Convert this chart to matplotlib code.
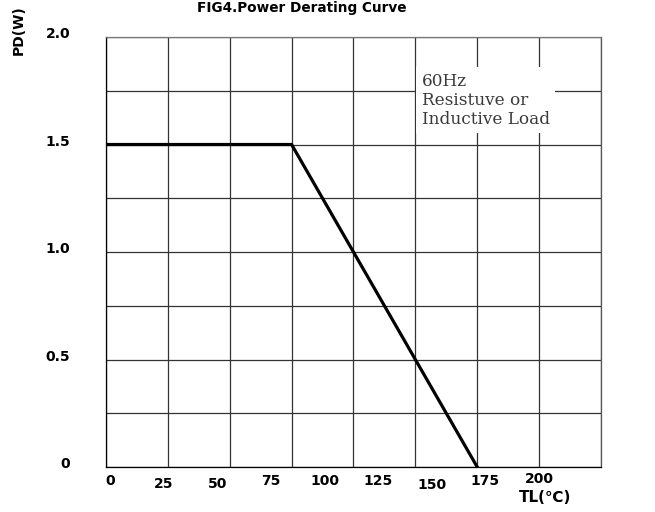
import matplotlib.pyplot as plt

plt.rcParams['font.family'] = ['DejaVu Sans']

# 降额曲线数据
temp = [0, 75, 150]
power = [1.5, 1.5, 0]

x_ticks = [0, 25, 50, 75, 100, 125, 150, 175, 200]
y_ticks = [0, 0.5, 1.0, 1.5, 2.0]
y_labels = ['0', '0.5', '1.0', '1.5', '2.0']

fig = plt.figure(figsize=(6.55, 5.12), dpi=100)
ax = fig.add_axes([0.1618, 0.0879, 0.7557, 0.8398])

ax.plot(temp, power, color='black', lw=2.3, solid_joinstyle='miter', zorder=3)

ax.set_xlim(0, 200)
ax.set_ylim(0, 2.0)
ax.set_xticks(range(0, 201, 25))
ax.set_yticks([i * 0.25 for i in range(9)])
ax.grid(True, color='#333333', lw=0.9)
ax.tick_params(length=0, labelbottom=False, labelleft=False)
for s in ax.spines.values():
    s.set_linewidth(0.9)
ax.spines['top'].set_color('#777777')
ax.spines['right'].set_color('#555555')

# 刻度标签（原图位置错开）
for i, v in enumerate(x_ticks):
    dy = [-0.065, -0.08, -0.08, -0.065, -0.065, -0.065, -0.085, -0.065, -0.055][i]
    ax.text(1.6 + v * 0.867, dy, str(v), ha='center', va='center',
            fontsize=10, fontweight='bold', clip_on=False)
ax.text(177.5, -0.14, 'TL(℃)', ha='center', va='center', fontsize=11,
        fontweight='bold', family=['DejaVu Sans', 'Noto Sans CJK SC'], clip_on=False)

for v, lab in zip(y_ticks, y_labels):
    ax.text(-14.5, v + 0.012, lab, ha='right', va='center',
            fontsize=10, fontweight='bold', clip_on=False)

fig.text(0.029, 0.941, 'PD(W)', rotation=90, ha='center', va='center',
         fontsize=10, fontweight='bold')
fig.text(0.46, 0.999, 'FIG4.Power Derating Curve', ha='center', va='top',
         fontsize=9.8, fontweight='bold')

ax.text(127.5, 1.705, '60Hz\nResistuve or\nInductive Load', ha='left', va='center',
        family='DejaVu Serif', fontsize=12.2, color='#3a3a3a', linespacing=1.15,
        bbox=dict(facecolor='white', edgecolor='none', pad=4), zorder=4)

plt.savefig('out.png', dpi=100)
